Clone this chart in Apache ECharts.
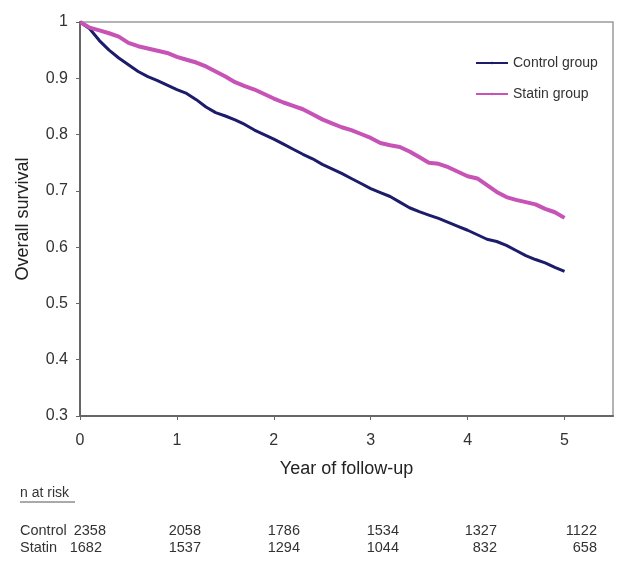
<!DOCTYPE html>
<html>
<head>
<meta charset="utf-8">
<script src="https://cdn.jsdelivr.net/npm/echarts@6/dist/echarts.min.js"></script>
<style>html,body{margin:0;padding:0;background:#fff}#c{width:628px;height:570px}</style>
</head>
<body>
<div id="c"></div>
<script>
const years = [0,0.1,0.2,0.3,0.4,0.5,0.6,0.7,0.8,0.9,1.0,1.1,1.2,1.3,1.4,1.5,1.6,1.7,1.8,1.9,2.0,2.1,2.2,2.3,2.4,2.5,2.6,2.7,2.8,2.9,3.0,3.1,3.2,3.3,3.4,3.5,3.6,3.7,3.8,3.9,4.0,4.1,4.2,4.3,4.4,4.5,4.6,4.7,4.8,4.9,5.0];
const controlSurv = [1.000,0.988,0.967,0.950,0.936,0.924,0.912,0.903,0.896,0.888,0.880,0.873,0.862,0.849,0.839,0.833,0.826,0.818,0.808,0.800,0.792,0.783,0.774,0.765,0.757,0.747,0.739,0.731,0.722,0.713,0.704,0.697,0.690,0.680,0.670,0.663,0.657,0.651,0.644,0.637,0.630,0.622,0.614,0.610,0.603,0.594,0.585,0.578,0.572,0.564,0.557];
const statinSurv = [1.000,0.990,0.985,0.980,0.974,0.963,0.957,0.953,0.949,0.945,0.938,0.933,0.928,0.921,0.912,0.903,0.893,0.886,0.880,0.872,0.864,0.857,0.851,0.845,0.836,0.827,0.820,0.813,0.808,0.801,0.794,0.785,0.781,0.778,0.770,0.760,0.750,0.748,0.742,0.734,0.726,0.722,0.710,0.698,0.689,0.684,0.680,0.676,0.668,0.662,0.652];
const xTicks = [0,1,2,3,4,5];
const seriesNames = ['Control group','Statin group'];
const riskTitle = 'n at risk';
const riskRowLabels = ['Control','Statin'];
const riskControl = [2358,2058,1786,1534,1327,1122];
const riskStatin = [1682,1537,1294,1044,832,658];

const FONT = '"Liberation Sans", Arial, sans-serif';
const chart = echarts.init(document.getElementById('c'), null, {renderer:'canvas'});

const colRight = [[106,102],201,300,399,497,597];
const g = [];
g.push({type:'text', x:20, y:493, style:{text:riskTitle, font:'14px '+FONT, fill:'#333', textVerticalAlign:'middle'}});
g.push({type:'line', shape:{x1:20,y1:502,x2:75,y2:502}, style:{stroke:'#555', lineWidth:1}});
const rowY = [531, 548];
const rows = [riskControl, riskStatin];
for (let r=0;r<2;r++){
  g.push({type:'text', x:20, y:rowY[r], style:{text:riskRowLabels[r], font:'14.5px '+FONT, fill:'#333', textAlign:'left', textVerticalAlign:'middle'}});
  for (let c=0;c<rows[r].length;c++){
    const xr = c===0 ? colRight[0][r] : colRight[c];
    g.push({type:'text', x:xr, y:rowY[r], style:{text:String(rows[r][c]), font:'14.5px '+FONT, fill:'#333', textAlign:'right', textVerticalAlign:'middle'}});
  }
}

chart.setOption({
  animation:false,
  backgroundColor:'#fff',
  textStyle:{fontFamily:FONT},
  grid:{left:80, top:22, right:15, bottom:154, show:true, borderColor:'#9a9a9a', borderWidth:1.5, containLabel:false},
  legend:{
    orient:'vertical', left:470, top:51, itemGap:17, itemWidth:32, itemHeight:3,
    textStyle:{fontSize:14, color:'#333', fontFamily:FONT},
    data:seriesNames
  },
  xAxis:{
    type:'value', min:0, max:5.5, interval:1,
    name:'Year of follow-up', nameLocation:'middle', nameGap:44,
    nameTextStyle:{fontSize:18, color:'#222', fontFamily:FONT},
    axisLine:{show:true, onZero:false, lineStyle:{color:'#666', width:2}},
    axisTick:{show:true, length:4, customValues:xTicks, lineStyle:{color:'#666'}},
    axisLabel:{fontSize:16, color:'#333', margin:17, fontFamily:FONT, customValues:xTicks},
    splitLine:{show:false}
  },
  yAxis:{
    type:'value', min:0.3, max:1, interval:0.1,
    name:'Overall survival', nameLocation:'middle', nameGap:48,
    nameTextStyle:{fontSize:18, color:'#222', fontFamily:FONT},
    axisLine:{show:true, lineStyle:{color:'#666', width:2}},
    axisTick:{show:true, length:4, lineStyle:{color:'#666'}},
    axisLabel:{fontSize:16, color:'#333', margin:12, fontFamily:FONT, formatter:v=>String(+v.toFixed(1))},
    splitLine:{show:false}
  },
  series:[
    {name:seriesNames[0], type:'line', data:years.map((x,i)=>[x,controlSurv[i]]), symbol:'none', lineStyle:{color:'#1c1c6b', width:3}, itemStyle:{color:'#1c1c6b'}},
    {name:seriesNames[1], type:'line', data:years.map((x,i)=>[x,statinSurv[i]]), symbol:'circle', symbolSize:4, showSymbol:false, lineStyle:{color:'#c653b5', width:4}, itemStyle:{color:'#c653b5'}}
  ],
  graphic:g
});
</script>
</body>
</html>
